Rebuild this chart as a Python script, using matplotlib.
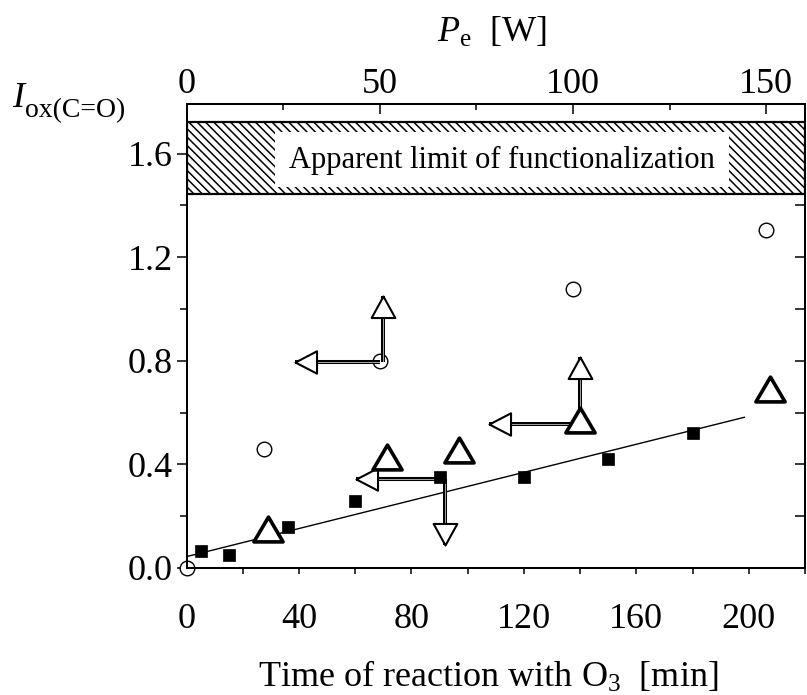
import matplotlib
matplotlib.use('Agg')
import matplotlib.pyplot as plt
from matplotlib.path import Path
from matplotlib.patches import Rectangle
import matplotlib.transforms as mtransforms
from matplotlib.ticker import MultipleLocator, NullFormatter

plt.rcParams['font.family'] = ['Liberation Serif', 'DejaVu Serif']
plt.rcParams['mathtext.fontset'] = 'custom'
plt.rcParams['mathtext.rm'] = 'Liberation Serif'
plt.rcParams['mathtext.it'] = 'Liberation Serif:italic'
plt.rcParams['hatch.linewidth'] = 1.1

# ---------------- data ----------------
square_t = [5, 15, 36, 60, 90.2, 120, 150, 180]
square_v = [0.066, 0.049, 0.16, 0.259, 0.351, 0.35, 0.42, 0.522]

circle_t = [0, 27.5, 68.8, 137.6, 206.2]
circle_v = [0.0, 0.459, 0.799, 1.077, 1.305]

triangle_t = [29, 71.3, 97, 140, 207.6]
triangle_v = [0.152, 0.43, 0.454, 0.573, 0.691]

fit_t = [0, 198.4]
fit_v = [0.044, 0.582]

# arrows: start point -> tip point, with direction of the head
arrow_start_t = [68.8, 69.8, 140.0, 140.0, 90.2, 92.0]
arrow_start_v = [0.795, 0.795, 0.556, 0.573, 0.343, 0.343]
arrow_tip_t = [38.6, 69.8, 107.6, 140.0, 60.3, 92.0]
arrow_tip_v = [0.795, 1.052, 0.556, 0.816, 0.343, 0.089]
arrow_dir = ['left', 'up', 'left', 'up', 'left', 'down']

limit_band = [1.444, 1.722]
limit_text = 'Apparent limit of functionalization'

x_ticks = [0, 40, 80, 120, 160, 200]
y_ticks = [0.0, 0.4, 0.8, 1.2, 1.6]
top_ticks = [0, 50, 100, 150]
x_range = [0, 220]
y_range = [0, 1.792]
top_range = [0, 160]

# ---------------- figure ----------------
W, H = 807, 695
fig = plt.figure(figsize=(W / 100, H / 100), dpi=100)
L, R, B, T = 186.6, 805, 568, 104
ax = fig.add_axes([L / W, 1 - B / H, (R - L) / W, (B - T) / H])


def fx(px):
    return px / W


def fy(py):
    return 1 - py / H


ax.set_xlim(*x_range)
ax.set_ylim(*y_range)
for s in ax.spines.values():
    s.set_linewidth(1.4)

ax.set_xticks(x_ticks)
ax.set_xticklabels([str(v) for v in x_ticks])
ax.xaxis.set_minor_locator(MultipleLocator(20))
ax.set_yticks(y_ticks)
ax.set_yticklabels(['%.1f' % v for v in y_ticks])
ax.yaxis.set_minor_locator(MultipleLocator(0.2))
ax.tick_params(axis='x', which='both', direction='out', length=4, width=1.1,
               labelsize=26, pad=21, top=False)
ax.tick_params(axis='y', which='major', direction='out', length=7, width=1.1,
               labelsize=26, pad=3, right=False)
ax.tick_params(axis='y', which='minor', direction='out', length=5, width=1.1,
               right=False)

# top axis (P_e)
ax2 = ax.twiny()
ax2.set_xlim(*top_range)
ax2.set_xticks(top_ticks)
ax2.set_xticklabels([str(v) for v in top_ticks])
ax2.xaxis.set_minor_locator(MultipleLocator(25))
ax2.tick_params(axis='x', which='major', direction='in', length=7, width=1.1,
                labelsize=26, pad=2)
ax2.tick_params(axis='x', which='minor', direction='in', length=4, width=1.1)
for s in ax2.spines.values():
    s.set_linewidth(1.4)

# right axis ticks (inward, no labels)
sec = ax.secondary_yaxis('right')
sec.yaxis.set_major_locator(MultipleLocator(0.2))
sec.yaxis.set_major_formatter(NullFormatter())
sec.tick_params(axis='y', direction='in', length=7, width=1.1)
sec.spines['right'].set_linewidth(1.4)

# hatched "apparent limit" band
blend = mtransforms.blended_transform_factory(ax.transAxes, ax.transData)
band = Rectangle((0, limit_band[0]), 1, limit_band[1] - limit_band[0],
                 transform=blend, facecolor='white', edgecolor='black',
                 hatch='\\\\\\\\', linewidth=1.6, zorder=1)
ax.add_patch(band)
inset = 0.12 * (limit_band[1] - limit_band[0])
wbox = Rectangle((0.143, limit_band[0] + inset * 0.8), 0.734,
                 limit_band[1] - limit_band[0] - inset * 1.9,
                 transform=blend, facecolor='white', edgecolor='none', zorder=1.5)
ax.add_patch(wbox)
ax.text(0.51, (limit_band[0] + limit_band[1]) / 2 - 0.008, limit_text,
        transform=blend, ha='center', va='center', fontsize=22, zorder=2)

# fitted line
ax.plot(fit_t, fit_v, color='black', lw=1.0, zorder=2)

# circles
ax.plot(circle_t, circle_v, linestyle='none', marker='o', ms=10.5,
        mfc='white', mec='black', mew=1.0, zorder=3, clip_on=False)

# arrows
head_paths = {
    'left': Path([(0, 0), (1, 0.52), (1, -0.52), (0, 0)], closed=True),
    'up': Path([(0, 0), (-0.55, -1), (0.55, -1), (0, 0)], closed=True),
    'down': Path([(0, 0), (-0.55, 1), (0.55, 1), (0, 0)], closed=True),
}
for t0, v0, t1, v1, d in zip(arrow_start_t, arrow_start_v, arrow_tip_t,
                             arrow_tip_v, arrow_dir):
    ax.plot([t0, t1], [v0, v1], color='black', lw=2.9,
            solid_capstyle='butt', zorder=3.5)
    ax.plot([t0, t1], [v0, v1], color='white', lw=0.45,
            solid_capstyle='butt', zorder=3.6)
    ax.plot([t1], [v1], linestyle='none', marker=head_paths[d], ms=31,
            mfc='white', mec='black', mew=1.5, zorder=4)

# triangles
tri = Path([(0, 0.85), (-1, -0.85), (1, -0.85), (0, 0.85)], closed=True)
ax.plot(triangle_t, triangle_v, linestyle='none', marker=tri, ms=21,
        mfc='white', mec='black', mew=2.6, zorder=5)

# squares
ax.plot(square_t, square_v, linestyle='none', marker='s', ms=9,
        mfc='black', mec='black', mew=0.5, zorder=5)

# labels
fig.text(fx(488), fy(677), r'Time of reaction with O$_3$  [min]',
         ha='center', va='center', fontsize=26)
fig.text(fx(492), fy(33), r'$P_{\mathrm{e}}$  [W]',
         ha='center', va='center', fontsize=26)
fig.text(fx(12), fy(107), r'$I$', ha='left', va='baseline', fontsize=26)
fig.text(fx(25), fy(117), r'ox(C=O)', ha='left', va='baseline', fontsize=20)

fig.savefig('out.png', dpi=100)
